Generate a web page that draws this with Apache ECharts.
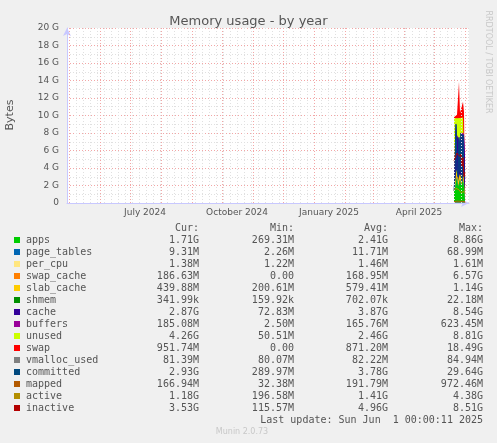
<!DOCTYPE html>
<html>
<head>
<meta charset="utf-8">
<script src="https://cdn.jsdelivr.net/npm/echarts@6/dist/echarts.min.js"></script>
<style>
  html, body { margin: 0; padding: 0; background: #f0f0f0; }
  #chart { width: 497px; height: 443px; }
</style>
</head>
<body>
<div id="chart"></div>
<script>
var G = 1024 * 1024 * 1024;
// day offsets since 2024-04-29, samples from 2025-05-21 to 2025-06-01
var days = [387, 388, 389, 390, 391, 392, 393, 394, 395, 396, 397, 398];
var apps = [1.3, 1.6, 2.4, 2.9, 1.8, 2.2, 2.7, 2.0, 1.9, 2.6, 1.8, 1.71];
var pageTables = [0.01, 0.01, 0.01, 0.02, 0.01, 0.01, 0.01, 0.01, 0.01, 0.01, 0.01, 0.009];
var perCpu = [0.0014, 0.0014, 0.0014, 0.0014, 0.0014, 0.0014, 0.0014, 0.0014, 0.0014, 0.0014, 0.0014, 0.0013];
var swapCache = [0.05, 0.1, 0.2, 0.3, 0.15, 0.2, 0.1, 0.2, 0.15, 0.2, 0.2, 0.19];
var slabCache = [0.3, 0.5, 0.7, 0.6, 0.5, 0.6, 0.5, 0.6, 0.5, 0.6, 0.5, 0.44];
var shmem = [0.0005, 0.0007, 0.0008, 0.0007, 0.0006, 0.0007, 0.0007, 0.0007, 0.0006, 0.0007, 0.0006, 0.0003];
var cache = [0.2, 5.0, 5.7, 3.8, 5.2, 4.6, 3.6, 5.1, 5.4, 4.4, 5.2, 2.87];
var buffers = [0.05, 0.15, 0.2, 0.15, 0.2, 0.15, 0.2, 0.15, 0.2, 0.15, 0.2, 0.19];
var unused = [7.8, 2.35, 0.5, 1.9, 1.8, 1.9, 2.6, 1.6, 1.5, 1.8, 1.8, 4.26];
var swap = [0.1, 0.2, 0.3, 0.4, 0.5, 4.2, 0.6, 0.5, 0.6, 1.8, 0.7, 0.95];
var vmallocUsed = [0.08, 0.08, 0.08, 0.08, 0.08, 0.08, 0.08, 0.08, 0.08, 0.08, 0.08, 0.08];
var committed = [1.4, 3.2, 9.0, 4.0, 3.0, 7.5, 3.5, 8.0, 2.5, 7.8, 3.2, 2.93];
var mapped = [0.15, 0.18, 0.2, 0.22, 0.2, 0.19, 0.2, 0.18, 0.2, 0.19, 0.18, 0.17];
var active = [1.4, 1.5, 1.7, 1.8, 1.6, 1.5, 1.7, 1.2, 1.0, 1.4, 1.3, 1.18];
var inactive = [4.8, 5.0, 5.4, 5.7, 5.5, 5.8, 5.3, 5.6, 4.2, 5.2, 3.0, 3.53];

var names = ["apps", "page_tables", "per_cpu", "swap_cache", "slab_cache", "shmem", "cache", "buffers", "unused", "swap",
  "vmalloc_used", "committed", "mapped", "active", "inactive"];
var colors = ["#00cc00", "#0066b3", "#ffe680", "#ff8000", "#ffcc00", "#008f00", "#330099", "#990099", "#ccff00", "#ff0000",
  "#808080", "#00487d", "#b35a00", "#b38f00", "#b30000"];
var curVals = ["1.71G", "9.31M", "1.38M", "186.63M", "439.88M", "341.99k", "2.87G", "185.08M", "4.26G", "951.74M", "81.39M", "2.93G", "166.94M", "1.18G", "3.53G"];
var minVals = ["269.31M", "2.26M", "1.22M", "0.00", "200.61M", "159.92k", "72.83M", "2.50M", "50.51M", "0.00", "80.07M", "289.97M", "32.38M", "196.58M", "115.57M"];
var avgVals = ["2.41G", "11.71M", "1.46M", "168.95M", "579.41M", "702.07k", "3.87G", "165.76M", "2.46G", "871.20M", "82.22M", "3.78G", "191.79M", "1.41G", "4.96G"];
var maxVals = ["8.86G", "68.99M", "1.61M", "6.57G", "1.14G", "22.18M", "8.54G", "623.45M", "8.81G", "18.49G", "84.94M", "29.64G", "972.46M", "4.38G", "8.51G"];
var monthStarts = ["2024-05-01", "2024-06-01", "2024-07-01", "2024-08-01", "2024-09-01", "2024-10-01", "2024-11-01", "2024-12-01",
  "2025-01-01", "2025-02-01", "2025-03-01", "2025-04-01", "2025-05-01", "2025-06-01"];
var monthLabels = [["2024-07-16", "July 2024"], ["2024-10-16", "October 2024"], ["2025-01-16", "January 2025"], ["2025-04-16", "April 2025"]];

var startMs = Date.UTC(2024, 3, 29);
function dayOf(s) { return (Date.parse(s + "T00:00:00Z") - startMs) / 86400000; }

var stackSeries = [apps, pageTables, perCpu, swapCache, slabCache, shmem, cache, buffers, unused, swap];
var lineSeries = [vmallocUsed, committed, mapped, active, inactive];

var series = [];
// grid lines (weekly gray, monthly red)
var weekLines = [];
for (var d = 2; d <= 402; d += 7) weekLines.push({ xAxis: d });
series.push({
  type: "line", data: [], silent: true, z: 1,
  markLine: { symbol: "none", silent: true, label: { show: false },
    lineStyle: { color: "#e0e0e0", type: [1, 2], width: 1 }, data: weekLines }
});
series.push({
  type: "line", data: [], silent: true, z: 1,
  markLine: { symbol: "none", silent: true, label: { show: false },
    lineStyle: { color: "#f2a6a6", type: [1, 2], width: 1 },
    data: monthStarts.map(function (s) { return { xAxis: dayOf(s) }; }) }
});

// cumulative stack, drawn top first so lower layers cover it
var cum = days.map(function () { return 0; });
var layers = [];
stackSeries.forEach(function (arr, i) {
  cum = cum.map(function (c, j) { return c + arr[j]; });
  layers.push({
    type: "line", name: names[i], symbol: "none", z: 2,
    lineStyle: { width: 0 }, areaStyle: { color: colors[i], opacity: 1 },
    itemStyle: { color: colors[i] },
    data: cum.map(function (v, j) { return [days[j], v * G]; })
  });
});
series = series.concat(layers.reverse());
lineSeries.forEach(function (arr, i) {
  var k = stackSeries.length + i;
  series.push({
    type: "line", name: names[k], symbol: "none", z: 3,
    lineStyle: { width: 1, color: colors[k] }, itemStyle: { color: colors[k] },
    data: arr.map(function (v, j) { return [days[j], v * G]; })
  });
});

// legend as text
var mono = "DejaVu Sans Mono";
var gfx = [];
function txt(x, y, s, align) {
  gfx.push({ type: "text", x: x, y: y,
    style: { text: s, fill: "#555", font: "10px " + mono, textAlign: align || "left", textVerticalAlign: "middle" } });
}
txt(199, 228, "Cur:", "right"); txt(294, 228, "Min:", "right"); txt(388, 228, "Avg:", "right"); txt(483, 228, "Max:", "right");
names.forEach(function (n, i) {
  var y = 240 + i * 12;
  gfx.push({ type: "rect", shape: { x: 14, y: y - 3, width: 6, height: 6 }, style: { fill: colors[i] } });
  txt(26, y, n);
  txt(199, y, curVals[i], "right");
  txt(294, y, minVals[i], "right");
  txt(388, y, avgVals[i], "right");
  txt(483, y, maxVals[i], "right");
});
txt(483, 420, "Last update: Sun Jun  1 00:00:11 2025", "right");
gfx.push({ type: "text", x: 242, y: 432, style: { text: "Munin 2.0.73", fill: "#c8c8c8", font: "8px DejaVu Sans", textAlign: "center", textVerticalAlign: "middle" } });
gfx.push({ type: "text", x: 488, y: 62, rotation: -Math.PI / 2,
  style: { text: "RRDTOOL / TOBI OETIKER", fill: "#c8c8c8", font: "8px DejaVu Sans", textAlign: "center", textVerticalAlign: "middle" } });
gfx.push({ type: "text", x: 10, y: 115, rotation: Math.PI / 2,
  style: { text: "Bytes", fill: "#555", font: "11px DejaVu Sans", textAlign: "center", textVerticalAlign: "middle" } });

var chart = echarts.init(document.getElementById("chart"));
chart.setOption({
  backgroundColor: "#f0f0f0",
  animation: false,
  title: { text: "Memory usage - by year", left: "center", top: 10,
    textStyle: { fontFamily: "DejaVu Sans", fontSize: 13, fontWeight: "normal", color: "#555" } },
  grid: { left: 67, top: 28, right: 28, bottom: 240, show: true, backgroundColor: "#ffffff", borderWidth: 0 },
  xAxis: {
    type: "value", min: 0, max: 402,
    axisLine: { lineStyle: { color: "#c8c8ff" }, symbol: ["none", "arrow"], symbolSize: [6, 8] },
    axisTick: { show: false },
    splitLine: { show: false },
    axisLabel: {
      customValues: monthLabels.map(function (m) { return dayOf(m[0]); }),
      formatter: function (v) {
        for (var i = 0; i < monthLabels.length; i++) if (Math.abs(dayOf(monthLabels[i][0]) - v) < 0.5) return monthLabels[i][1];
        return "";
      },
      color: "#555", fontFamily: "DejaVu Sans", fontSize: 9, margin: 5
    }
  },
  yAxis: {
    type: "value", min: 0, max: 20 * G, interval: 2 * G,
    axisLine: { show: true, lineStyle: { color: "#c8c8ff" }, symbol: ["none", "arrow"], symbolSize: [6, 8] },
    axisTick: { show: false },
    minorTick: { show: false, splitNumber: 2 },
    minorSplitLine: { show: true, lineStyle: { color: "#e0e0e0", type: [1, 2] } },
    splitLine: { lineStyle: { color: "#f2a6a6", type: [1, 2] } },
    axisLabel: {
      formatter: function (v) { var g = Math.round(v / G); return g === 0 ? "0" : g + " G"; },
      color: "#555", fontFamily: "DejaVu Sans", fontSize: 9, margin: 8
    }
  },
  series: series,
  graphic: gfx
});
</script>
</body>
</html>
